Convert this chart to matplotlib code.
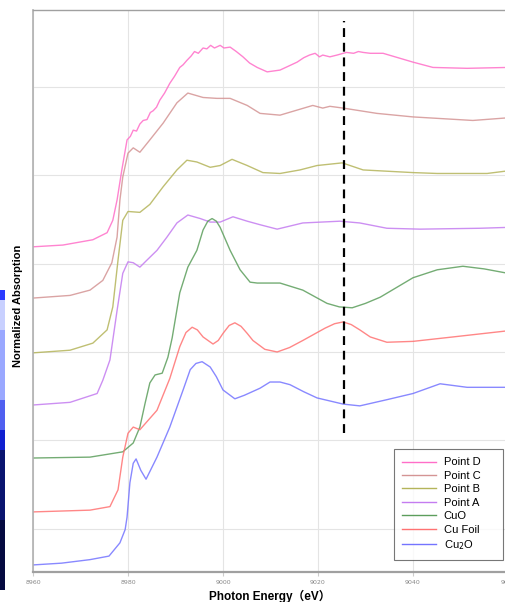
import numpy as np
import matplotlib.pyplot as plt
from matplotlib.patches import Rectangle

# Spectra (energy in eV, stacked normalized absorption)
e_cu2o = [8960, 8966, 8972, 8976, 8978.3, 8979.4, 8979.8, 8980.4, 8981.1, 8981.7, 8982.7, 8983.8,
          8986.1, 8988.8, 8991.6, 8993.1, 8994.3, 8995.6, 8997.3, 8998.6, 9000.0, 9002.5, 9004.5,
          9007.8, 9009.9, 9012.0, 9014.1, 9017.0, 9019.8, 9025.3, 9028.8, 9034.5, 9040.0,
          9045.7, 9051.4, 9060]
y_cu2o = [0.59, 0.61, 0.65, 0.69, 0.84, 0.99, 1.13, 1.52, 1.74, 1.79, 1.66, 1.56,
          1.81, 2.15, 2.57, 2.80, 2.87, 2.89, 2.83, 2.72, 2.57, 2.47, 2.51,
          2.59, 2.66, 2.66, 2.63, 2.55, 2.48, 2.41, 2.39, 2.46, 2.53,
          2.64, 2.60, 2.60]

e_cufoil = [8960, 8972, 8976.2, 8977.9, 8978.9, 8980.0, 8981.1, 8982.5, 8986.1, 8988.8,
            8990.9, 8992.2, 8993.5, 8994.6, 8995.8, 8997.9, 8999.0, 9000.0, 9001.3, 9002.5,
            9003.8, 9005.1, 9006.3, 9008.8, 9011.4, 9014.0, 9016.8, 9021.5, 9023.5, 9025.3,
            9027.0, 9028.8, 9031.0, 9034.5, 9040.0, 9048.4, 9060]
y_cufoil = [1.19, 1.21, 1.25, 1.44, 1.81, 2.08, 2.15, 2.12, 2.34, 2.70,
            3.06, 3.22, 3.28, 3.25, 3.17, 3.09, 3.13, 3.21, 3.30, 3.33,
            3.29, 3.21, 3.13, 3.03, 3.00, 3.05, 3.13, 3.27, 3.32, 3.34,
            3.31, 3.25, 3.17, 3.11, 3.12, 3.17, 3.24]

e_cuo = [8960, 8972, 8978.9, 8981.1, 8982.5, 8983.6, 8984.6, 8985.7, 8987.2, 8988.4,
         8989.3, 8990.9, 8992.6, 8994.5, 8995.8, 8996.8, 8997.7, 8998.6, 8999.4, 9001.5,
         9003.6, 9005.7, 9007.2, 9012.0, 9016.8, 9021.9, 9024.5, 9027.2, 9030.0, 9033.1,
         9040.0, 9045.1, 9050.5, 9055.0, 9060]
y_cuo = [1.80, 1.81, 1.87, 1.97, 2.15, 2.42, 2.65, 2.74, 2.76, 2.94,
         3.16, 3.67, 3.96, 4.15, 4.38, 4.48, 4.51, 4.48, 4.41, 4.15,
         3.93, 3.79, 3.78, 3.78, 3.70, 3.55, 3.51, 3.50, 3.55, 3.62,
         3.84, 3.93, 3.97, 3.94, 3.89]

e_pta = [8960, 8967.8, 8973.5, 8974.7, 8976.2, 8977.7, 8978.9, 8980.0, 8981.1, 8982.5,
         8984.0, 8986.1, 8988.2, 8990.3, 8992.6, 8995.2, 8997.3, 8999.4, 9002.1, 9005.1,
         9007.8, 9011.4, 9016.8, 9024.6, 9028.8, 9034.5, 9041.5, 9054.1, 9060]
y_pta = [2.40, 2.43, 2.53, 2.68, 2.91, 3.47, 3.89, 4.02, 4.01, 3.96,
         4.04, 4.15, 4.30, 4.46, 4.55, 4.51, 4.47, 4.47, 4.53, 4.48,
         4.44, 4.39, 4.46, 4.48, 4.46, 4.40, 4.39, 4.40, 4.41]

e_ptb = [8960, 8967.8, 8972.6, 8975.6, 8976.8, 8977.9, 8978.9, 8980.0, 8982.5, 8984.6,
         8987.4, 8990.3, 8992.4, 8994.5, 8997.3, 8999.4, 9001.9, 9005.1, 9008.4, 9012.0,
         9016.2, 9019.8, 9025.1, 9029.5, 9040.0, 9045.1, 9055.6, 9060]
y_ptb = [2.99, 3.02, 3.10, 3.25, 3.51, 4.04, 4.49, 4.59, 4.58, 4.67,
         4.87, 5.06, 5.17, 5.15, 5.09, 5.11, 5.18, 5.11, 5.03, 5.02,
         5.06, 5.11, 5.14, 5.06, 5.03, 5.02, 5.02, 5.05]

e_ptc = [8960, 8967.8, 8972.0, 8974.7, 8976.6, 8977.7, 8978.3, 8978.9, 8980.0, 8981.1,
         8982.5, 8984.6, 8987.4, 8990.3, 8992.6, 8995.8, 8998.7, 9001.5, 9005.1, 9007.8,
         9012.0, 9018.9, 9021.0, 9022.5, 9025.3, 9032.4, 9040.0, 9052.6, 9060]
y_ptc = [3.61, 3.64, 3.70, 3.81, 4.01, 4.30, 4.72, 4.98, 5.25, 5.31,
         5.26, 5.40, 5.59, 5.82, 5.93, 5.88, 5.87, 5.87, 5.79, 5.70,
         5.68, 5.79, 5.76, 5.78, 5.76, 5.70, 5.66, 5.62, 5.65]

e_ptd = [8960, 8966.3, 8972.6, 8975.6, 8976.8, 8977.7, 8978.7, 8979.8, 8980.5, 8981.1,
         8981.8, 8982.5, 8983.2, 8984.0, 8984.7, 8985.3, 8986.0, 8986.7, 8987.7, 8988.8,
         8989.8, 8990.9, 8991.6, 8992.4, 8993.3, 8994.0, 8994.8, 8995.8, 8996.6, 8997.4,
         8998.2, 8999.4, 9000.2, 9001.5, 9002.8, 9004.2, 9005.6, 9007.2, 9009.3, 9012.0,
         9014.0, 9015.6, 9017.0, 9018.2, 9019.4, 9020.3, 9021.0, 9022.5, 9024.0, 9026.0,
         9027.5, 9028.5, 9029.5, 9031.0, 9033.7, 9040.0, 9044.2, 9051.4, 9060]
y_ptd = [4.19, 4.21, 4.27, 4.35, 4.49, 4.72, 5.06, 5.40, 5.44, 5.51,
         5.50, 5.58, 5.62, 5.63, 5.71, 5.73, 5.77, 5.85, 5.93, 6.04,
         6.12, 6.22, 6.25, 6.30, 6.35, 6.40, 6.38, 6.44, 6.43, 6.47,
         6.44, 6.47, 6.44, 6.45, 6.40, 6.34, 6.27, 6.22, 6.17, 6.19,
         6.24, 6.28, 6.33, 6.36, 6.38, 6.34, 6.36, 6.34, 6.36, 6.39,
         6.38, 6.40, 6.39, 6.38, 6.38, 6.28, 6.22, 6.21, 6.22]

labels = ['Point D', 'Point C', 'Point B', 'Point A', 'CuO', 'Cu Foil', 'Cu$_2$O']
colors = ['#ff6ec8', '#d49494', '#b4b45a', '#c47cf0', '#5c9e5c', '#ff7272', '#7474ff']
energies = [e_ptd, e_ptc, e_ptb, e_pta, e_cuo, e_cufoil, e_cu2o]
spectra = [y_ptd, y_ptc, y_ptb, y_pta, y_cuo, y_cufoil, y_cu2o]

marker_energy = 9025.5
marker_range = (2.08, 6.75)
xticks = [8960, 8980, 9000, 9020, 9040, 9060]

fig = plt.figure(figsize=(5.05, 6.02), dpi=100)
ax = fig.add_axes([33 / 505, 30 / 602, 475 / 505, 562 / 602])

for e, y, c, lab in zip(energies, spectra, colors, labels):
    ax.plot(e, y, color=c, lw=1.0, alpha=0.85, label=lab)

ax.plot([marker_energy, marker_energy], marker_range, color='black', lw=1.6,
        linestyle=(0, (4, 2.6)))

ax.set_xlim(8960, 9060)
ax.set_ylim(0.51, 6.87)
ax.set_xticks(xticks)
ax.set_xticklabels([str(t) for t in xticks], fontsize=4.5, color='#888888')
ax.set_yticks([1, 2, 3, 4, 5, 6])
ax.set_yticklabels([])
ax.tick_params(axis='y', length=0)
ax.tick_params(axis='x', length=3, color='#cccccc', pad=3)
ax.grid(True, color='#e4e4e4', lw=0.8)
ax.set_axisbelow(True)

ax.spines['right'].set_visible(False)
ax.spines['left'].set_color('#b0b0b0')
ax.spines['left'].set_linewidth(1.2)
ax.spines['top'].set_color('#a0a0a0')
ax.spines['top'].set_linewidth(1.0)
ax.spines['bottom'].set_color('#a0a0a0')
ax.spines['bottom'].set_linewidth(1.6)

leg = ax.legend(loc='lower left', bbox_to_anchor=(0.760, 0.021, 0.2295, 0.2),
                mode='expand', frameon=True, fancybox=False, handlelength=3.0,
                handletextpad=0.72, labelspacing=0.31, borderpad=0.75, borderaxespad=0.0,
                prop={'family': 'Liberation Sans', 'size': 8})
leg.get_frame().set_edgecolor('#555555')
leg.get_frame().set_linewidth(0.8)
for line in leg.get_lines():
    line.set_alpha(1.0)

fig.text(270 / 505, 1 - 596 / 602, 'Photon Energy（eV）', ha='center', va='center',
         fontsize=8.5, fontweight='bold', family=['Liberation Sans', 'Noto Sans CJK JP'])
fig.text(18 / 505, 1 - 306 / 602, 'Normalized Absorption', ha='center', va='center',
         rotation=90, fontsize=8, fontweight='bold', family=['Liberation Sans'])

# cropped blue strip at the left edge of the original screenshot
strip = [(290, 300, '#2b3bff'), (300, 330, '#c8d0ff'), (330, 400, '#9aa8ff'),
         (400, 430, '#5060f0'), (430, 450, '#1020d0'), (450, 520, '#0a1470'),
         (520, 590, '#050a40')]
for y0, y1, c in strip:
    fig.patches.append(Rectangle((0, 1 - y1 / 602), 5 / 505, (y1 - y0) / 602,
                                 transform=fig.transFigure, color=c, lw=0))

fig.savefig('out.png', dpi=100)
